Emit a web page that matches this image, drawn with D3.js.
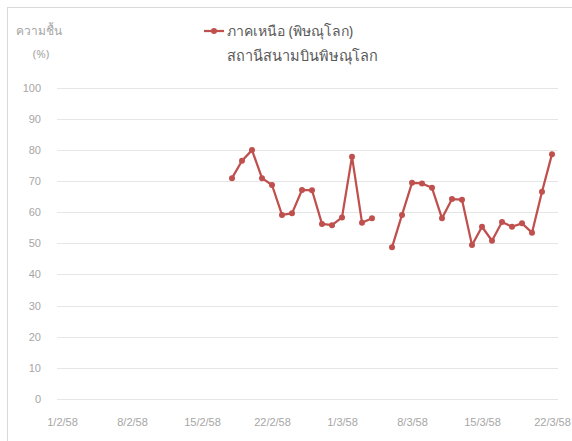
<!DOCTYPE html>
<meta charset="utf-8">
<style>
    body { margin: 0; background: #fff; }
    svg { font-family: "Noto Sans", "DejaVu Sans", sans-serif; }
    .grid line { stroke: #e6e6e6; stroke-width: 1px; }
    .tick-label { fill: #a6a6a6; font-size: 11px; }
</style>
<body>
<svg id="chart" width="572" height="441"></svg>
</body>
<script src="https://d3js.org/d3.v7.min.js"></script>
<script>

    // humidity (%) at Phitsanulok airport, Feb-Mar 2558
    var part1Dates = ["18/2/58", "19/2/58", "20/2/58", "21/2/58", "22/2/58", "23/2/58", "24/2/58", "25/2/58",
        "26/2/58", "27/2/58", "28/2/58", "1/3/58", "2/3/58", "3/3/58", "4/3/58"];
    var part1Values = [70.9, 76.5, 79.9, 70.9, 68.7, 59.1, 59.6, 67.1, 67.0, 56.2, 55.8, 58.3, 77.8, 56.6, 58.0];

    var part2Dates = ["6/3/58", "7/3/58", "8/3/58", "9/3/58", "10/3/58", "11/3/58", "12/3/58", "13/3/58", "14/3/58",
        "15/3/58", "16/3/58", "17/3/58", "18/3/58", "19/3/58", "20/3/58", "21/3/58", "22/3/58"];
    var part2Values = [48.7, 59.1, 69.4, 69.2, 67.8, 58.0, 64.2, 64.0, 49.4, 55.3, 50.8, 56.8, 55.3, 56.4, 53.4, 66.5, 78.6];

    var xTickLabels = ["1/2/58", "8/2/58", "15/2/58", "22/2/58", "1/3/58", "8/3/58", "15/3/58", "22/3/58"];
    var yTicks = [0, 10, 20, 30, 40, 50, 60, 70, 80, 90, 100];

    var seriesName = "ภาคเหนือ (พิษณุโลก)";
    var titleText = "สถานีสนามบินพิษณุโลก";
    var yLabel1 = "ความชื้น";
    var yLabel2 = "(%)";

    var color = "#c0504d";

    var parseDate = function (s) {
        var p = s.split("/");
        return new Date(+p[2] + 2500 - 543, +p[1] - 1, +p[0]);
    };

    var svg = d3.select("#chart");

    // outer border (right and bottom edges fall outside the picture)
    svg.append("rect")
        .attr("x", 7.5).attr("y", 7.5)
        .attr("width", 580).attr("height", 450)
        .attr("fill", "none").attr("stroke", "#d9d9d9");

    var halfDay = 12 * 3600 * 1000;
    var x = d3.scaleTime()
        .domain([new Date(parseDate("1/2/58").getTime() - halfDay), new Date(parseDate("22/3/58").getTime() + halfDay)])
        .range([57, 557]);

    var y = d3.scaleLinear().domain([0, 100]).range([399, 87.5]);

    // gridlines
    svg.append("g").attr("class", "grid")
        .selectAll("line").data(yTicks).join("line")
        .attr("x1", 57).attr("x2", 558)
        .attr("y1", function (d) { return Math.round(y(d)) + 0.5; })
        .attr("y2", function (d) { return Math.round(y(d)) + 0.5; });

    // y axis labels
    var yAxis = d3.axisLeft(y).tickValues(yTicks).tickSize(0).tickPadding(0);
    var gy = svg.append("g").attr("transform", "translate(41,0)").call(yAxis);
    gy.select(".domain").remove();
    gy.selectAll("text").attr("class", "tick-label").attr("font-family", null).attr("font-size", null);

    // x axis labels
    var xAxis = d3.axisBottom(x)
        .tickValues(xTickLabels.map(parseDate))
        .tickFormat(function (d, i) { return xTickLabels[i]; })
        .tickSize(0).tickPadding(0);
    var gx = svg.append("g").attr("transform", "translate(0,418)").call(xAxis);
    gx.select(".domain").remove();
    gx.selectAll("text").attr("class", "tick-label").attr("font-family", null).attr("font-size", null);

    // y axis title
    svg.append("text").attr("x", 39).attr("y", 35).attr("text-anchor", "middle")
        .attr("class", "tick-label").style("font-size", "12px").text(yLabel1);
    svg.append("text").attr("x", 41).attr("y", 58).attr("text-anchor", "middle")
        .attr("class", "tick-label").style("font-size", "11.5px").text(yLabel2);

    // series
    var line = d3.line()
        .x(function (d) { return x(d.date); })
        .y(function (d) { return y(d.value); });

    [[part1Dates, part1Values], [part2Dates, part2Values]].forEach(function (part) {
        var pts = part[0].map(function (d, i) { return { date: parseDate(d), value: part[1][i] }; });
        svg.append("path").datum(pts)
            .attr("d", line)
            .attr("fill", "none")
            .attr("stroke", color)
            .attr("stroke-width", 2.25)
            .attr("stroke-linejoin", "round");
        svg.append("g").selectAll("circle").data(pts).join("circle")
            .attr("cx", function (d) { return x(d.date); })
            .attr("cy", function (d) { return y(d.value); })
            .attr("r", 3)
            .attr("fill", color);
    });

    // legend
    svg.append("line").attr("x1", 204).attr("x2", 224).attr("y1", 31).attr("y2", 31)
        .attr("stroke", color).attr("stroke-width", 2.25);
    svg.append("circle").attr("cx", 214).attr("cy", 31).attr("r", 3).attr("fill", color);
    svg.append("text").attr("x", 227).attr("y", 36).attr("fill", "#595959")
        .attr("font-size", "14px").text(seriesName);

    // title
    svg.append("text").attr("x", 227).attr("y", 61).attr("fill", "#595959")
        .attr("font-size", "14.5px").text(titleText);

</script>
